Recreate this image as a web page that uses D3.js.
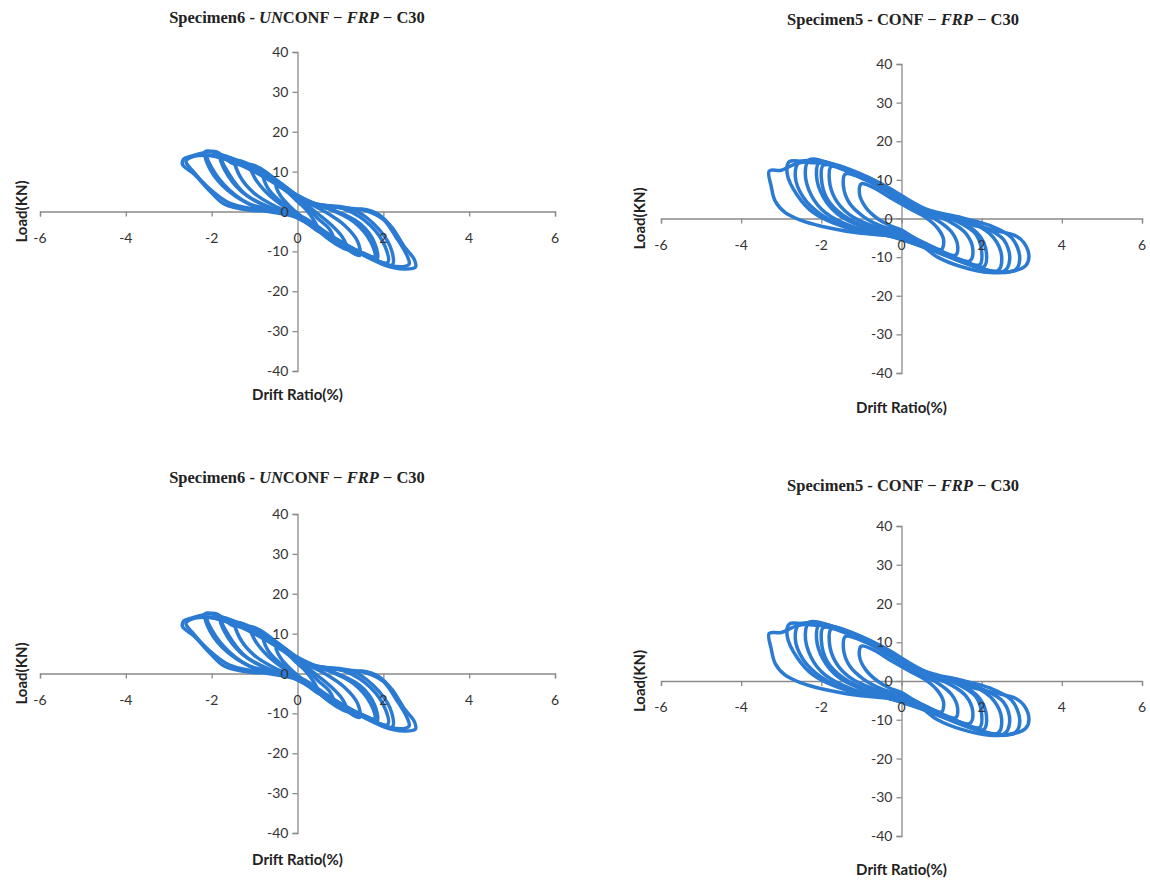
<!DOCTYPE html>
<html><head><meta charset="utf-8">
<script src="https://cdn.jsdelivr.net/npm/d3@7"></script>
<style>body{margin:0;background:#fff}</style>
</head><body><svg id="c" width="1150" height="881"></svg>
<script>
// ---------- data ----------
const xTicks = [-6, -4, -2, 0, 2, 4, 6];
const yTicks = [-40, -30, -20, -10, 0, 10, 20, 30, 40];
const xLabel = "Drift Ratio(%)";
const yLabel = "Load(KN)";

const titleA = [["Specimen6 - ", false], ["UN", true], ["CONF − ", false], ["FRP", true], [" − C30", false]];
const titleB = [["Specimen5 - CONF − ", false], ["FRP", true], [" − C30", false]];

// Specimen6 (unconfined) hysteresis loops: [drift %, load kN]
const loopsA = [
  [[0,2.5],[-0.25,5],[-0.5,6.5],[-0.4,4],[-0.2,1.5],[0,-0.5],[0.25,-3],[0.5,-5],[0.4,-2.5],[0.2,0.5]],
  [[0.05,3],[-0.4,7],[-0.8,9.5],[-0.7,6],[-0.45,3],[-0.2,1],[0,-0.5],[0.4,-4],[0.85,-7.5],[0.75,-4.5],[0.45,-1.5],[0.2,1.5]],
  [[0.1,3],[-0.5,8],[-0.9,11],[-1.1,11.8],[-1.0,8.5],[-0.7,4.5],[-0.35,1.5],[0,-0.8],[0.5,-5],[0.9,-8.2],[1.15,-9.5],[1.05,-6.5],[0.75,-3],[0.35,0.5]],
  [[0.15,2.8],[-0.6,8.5],[-1.2,12.2],[-1.45,12.8],[-1.35,9],[-1.0,4.5],[-0.5,1.2],[0,-1],[0.6,-5.5],[1.2,-9.8],[1.45,-11],[1.4,-7.5],[1.1,-3.5],[0.6,0.2]],
  [[0.2,2.5],[-0.7,9],[-1.4,12.8],[-1.8,14],[-1.7,10.5],[-1.3,5],[-0.7,1.2],[0,-1],[0.7,-5.8],[1.4,-10],[1.85,-12],[1.8,-8],[1.45,-3],[0.8,0.5]],
  [[0.25,2.2],[-0.6,8.2],[-1.3,12],[-1.75,13.2],[-1.6,9.5],[-1.2,4.2],[-0.6,0.8],[0.1,-1.3],[0.8,-6.2],[1.5,-10.3],[1.8,-11.3],[1.7,-7.5],[1.3,-2.5],[0.7,0.8]],
  [[0.3,2.3],[-0.8,9.5],[-1.6,13.5],[-2.15,15],[-2.1,12],[-1.75,6.5],[-1.1,1.8],[-0.3,-0.2],[0.5,-4.5],[1.4,-10.2],[2.2,-13.5],[2.2,-10],[1.9,-4.5],[1.3,0.5]],
  [[0.35,2],[-0.9,9.8],[-1.7,13.2],[-2.1,14],[-2.0,11],[-1.6,5.5],[-1.0,1.2],[-0.2,-0.6],[0.6,-5],[1.5,-10.6],[2.1,-12.8],[2.05,-9],[1.7,-3.5],[1.1,0.6]],
  [[0.45,1.8],[-0.5,7],[-1.3,11.5],[-2.0,14],[-2.5,13.5],[-2.6,12.5],[-2.45,10.3],[-2.1,6.2],[-1.6,2.2],[-0.9,0.4],[0,-1.5],[0.9,-7],[1.7,-11.6],[2.3,-13.8],[2.6,-13.2],[2.55,-11],[2.3,-6.5],[2.0,-2],[1.6,0.2],[1.0,1]],
  [[0.4,2],[-0.1,4.5],[-0.6,7.5],[-0.9,10],[-1.15,11.6],[-1.5,12],[-1.9,15],[-2.2,14.7],[-2.5,13.8],[-2.65,13.2],[-2.68,11.8],[-2.4,9.3],[-2.05,5.2],[-1.7,1.8],[-1.1,0.3],[-0.4,0],[0,-1.5],[0.5,-5],[1.2,-9],[1.65,-11],[2.0,-13.3],[2.5,-14.4],[2.75,-13.9],[2.72,-12],[2.5,-9],[2.2,-4],[1.9,-0.8],[1.5,0.6],[1.25,0.3],[1.0,1.0]]
];

// Specimen5 (confined) hysteresis loops: [drift %, load kN]
const loopsB = [
  [[0.3,2],[-0.3,5.5],[-0.7,8],[-1.0,9],[-1.05,6.5],[-0.9,3],[-0.6,0],[-0.3,-1.8],[0,-3],[0.4,-5.5],[0.8,-7.5],[1.0,-8],[1.05,-5.5],[0.9,-2.5],[0.6,0.3]],
  [[0.35,2.3],[-0.3,6.5],[-0.9,10],[-1.4,11.5],[-1.45,8.5],[-1.3,4],[-0.95,0.5],[-0.5,-2],[0,-3.5],[0.5,-6],[1.0,-8.5],[1.35,-9.5],[1.4,-7],[1.25,-3.5],[0.9,-0.5],[0.6,1]],
  [[0.4,2.3],[-0.4,7.5],[-1.1,11.5],[-1.75,13.5],[-1.8,10],[-1.65,5],[-1.3,1],[-0.7,-2],[0,-3.8],[0.6,-6.5],[1.2,-9.5],[1.7,-11],[1.78,-8],[1.6,-3.8],[1.2,-0.8],[0.8,0.8]],
  [[0.45,2],[-0.5,8],[-1.35,12.2],[-1.95,13.8],[-2.0,10.5],[-1.85,5],[-1.45,0.8],[-0.8,-2.4],[0,-4.2],[0.7,-7.3],[1.5,-10.8],[1.95,-12],[2.0,-8.5],[1.85,-4],[1.4,-0.8],[0.9,1]],
  [[0.5,2.2],[-0.4,8],[-1.3,12.5],[-2.05,14.5],[-2.12,11],[-1.95,5.5],[-1.6,1.2],[-1.0,-2],[-0.2,-4],[0.6,-7],[1.4,-10.5],[2.05,-12.5],[2.12,-9],[1.95,-4.5],[1.5,-1],[1.0,0.8]],
  [[0.5,2.5],[-0.5,8.5],[-1.5,13.2],[-2.3,15.2],[-2.4,12],[-2.25,6],[-1.9,1.5],[-1.2,-2.2],[-0.3,-4.2],[0.7,-7.5],[1.6,-11.5],[2.4,-13.5],[2.5,-10],[2.3,-5],[1.8,-1.3],[1.2,0.6]],
  [[0.55,2.2],[-0.6,9.2],[-1.7,13.8],[-2.55,14.6],[-2.65,11],[-2.45,5.5],[-2.0,1],[-1.2,-2.8],[-0.3,-4.5],[0.7,-8],[1.8,-12.3],[2.55,-13.7],[2.7,-10.5],[2.55,-5.5],[2.0,-2],[1.3,0.3]],
  [[0.6,2.5],[-0.5,9],[-1.6,13.8],[-2.3,14.5],[-2.8,14.7],[-2.85,11.5],[-2.6,6],[-2.2,1.5],[-1.4,-2.3],[-0.4,-4.3],[0.6,-7.5],[1.7,-12],[2.4,-13.9],[2.85,-13.2],[2.95,-10],[2.75,-5],[2.2,-1.8],[1.5,0.2]],
  [[0.8,1],[0.2,3.5],[-0.3,7.5],[-0.8,10.5],[-1.4,13],[-2.0,14.7],[-2.6,14.3],[-3.0,12.5],[-3.3,12.3],[-3.25,8.3],[-3.15,4.5],[-2.9,1.5],[-2.5,-0.5],[-2.0,-2],[-1.1,-3.7],[-0.3,-4.5],[0.2,-5.4],[0.5,-7],[0.9,-10],[1.5,-12.5],[2.2,-14],[2.8,-13.6],[3.1,-12.2],[3.18,-9.8],[3.05,-6.2],[2.85,-4.5],[2.3,-3],[1.7,-1.5],[1.2,0]]
];

// ---------- layout ----------
const panels = [
  {title: titleA, loops: loopsA, px: [40, 555], py: [371, 52], tx: 297, ty: 23, ylx: 22, xly: 400},
  {title: titleB, loops: loopsB, px: [661, 1142], py: [373, 64], tx: 903, ty: 25, ylx: 640, xly: 413},
  {title: titleA, loops: loopsA, px: [40, 555], py: [833, 514], tx: 297, ty: 483, ylx: 22, xly: 865},
  {title: titleB, loops: loopsB, px: [661, 1142], py: [836, 526], tx: 903, ty: 491, ylx: 640, xly: 875}
];

const svg = d3.select("#c");
const blue = "#2b7bd3";
const axisCol = "#8a8a8a";
const tickFont = "Lato, 'Open Sans', sans-serif";

panels.forEach(p => {
  const x = d3.scaleLinear().domain([-6, 6]).range(p.px);
  const y = d3.scaleLinear().domain([-40, 40]).range(p.py);
  const g = svg.append("g");

  const xAxis = d3.axisBottom(x).tickValues(xTicks).tickSize(5).tickFormat("");
  const yAxis = d3.axisLeft(y).tickValues(yTicks).tickSize(5).tickFormat("");
  const gx = g.append("g").attr("transform", `translate(0,${y(0)})`).call(xAxis);
  const gy = g.append("g").attr("transform", `translate(${x(0)},0)`).call(yAxis);
  [gx, gy].forEach(a => {
    a.selectAll("path").attr("stroke", axisCol).attr("stroke-width", 1.3);
    a.selectAll("line").attr("stroke", axisCol).attr("stroke-width", 1.3);
  });

  const line = d3.line().x(d => x(d[0])).y(d => y(d[1])).curve(d3.curveCatmullRomClosed.alpha(0.5));
  g.append("g").selectAll("path").data(p.loops).join("path")
    .attr("d", line).attr("fill", "none").attr("stroke", blue)
    .attr("stroke-width", 3.5).attr("stroke-linejoin", "round");

  g.append("g").selectAll("text").data(xTicks).join("text")
    .attr("x", d => x(d)).attr("y", y(0) + 31)
    .attr("text-anchor", "middle").attr("font-family", tickFont)
    .attr("font-size", 14).attr("fill", "#333").text(d => d);
  g.append("g").selectAll("text").data(yTicks).join("text")
    .attr("x", x(0) - 9).attr("y", d => y(d) + 5)
    .attr("text-anchor", "end").attr("font-family", tickFont)
    .attr("font-size", 14).attr("fill", "#333").text(d => d);

  g.append("text").attr("x", x(0)).attr("y", p.xly)
    .attr("text-anchor", "middle").attr("font-family", tickFont)
    .attr("font-weight", "bold").attr("font-size", 15).attr("fill", "#222").text(xLabel);
  g.append("text").attr("transform", `translate(${p.ylx + 5},${y(0)}) rotate(-90)`)
    .attr("text-anchor", "middle").attr("font-family", tickFont)
    .attr("font-weight", "bold").attr("font-size", 15).attr("fill", "#222").text(yLabel);

  const t = g.append("text").attr("x", p.tx).attr("y", p.ty)
    .attr("text-anchor", "middle").attr("font-family", "'Liberation Serif', 'DejaVu Serif', serif")
    .attr("font-weight", "bold").attr("font-size", 16.5).attr("fill", "#222");
  t.selectAll("tspan").data(p.title).join("tspan")
    .attr("font-style", d => d[1] ? "italic" : "normal")
    .text(d => d[0]);
});
</script>
</body></html>
